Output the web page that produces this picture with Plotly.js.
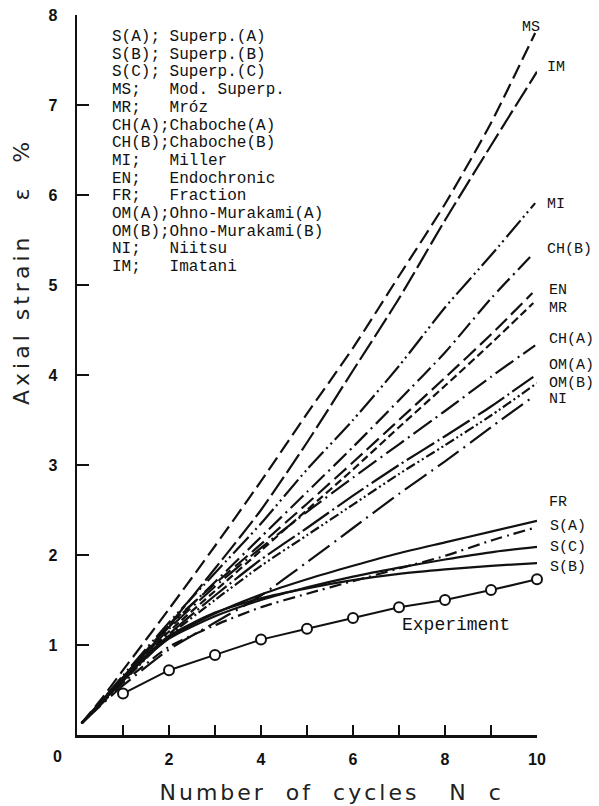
<!DOCTYPE html>
<html>
<head>
<meta charset="utf-8">
<script src="https://cdn.plot.ly/plotly-3.0.1.min.js"></script>
<style>
html,body{margin:0;padding:0;background:#fff;}
#chart{width:599px;height:806px;}
.annotation[data-index="0"] text{letter-spacing:3px;}
.annotation[data-index="1"] text{letter-spacing:4px;}
</style>
</head>
<body>
<div id="chart"></div>
<script>
// ---- data ----
const xGrid = [0.1, 0.5, 1, 2, 3, 4, 5, 6, 7, 8, 9];
const seriesCodes = ['MS','IM','MI','CH(B)','EN','MR','CH(A)','OM(A)','OM(B)','NI','FR','S(A)','S(C)','S(B)'];
const endX = [9.96, 10.0, 9.96, 9.85, 9.9, 9.92, 9.96, 9.92, 10.0, 9.92, 10.0, 10.0, 10.0, 10.0];

const msStrain  = [0.13,0.38,0.72,1.40,2.10,2.82,3.57,4.30,5.10,5.90,6.80,7.80];
const imStrain  = [0.13,0.36,0.64,1.22,1.85,2.50,3.25,4.05,4.85,5.72,6.55,7.37];
const miStrain  = [0.13,0.36,0.66,1.25,1.80,2.35,2.95,3.50,4.10,4.75,5.33,5.91];
const chbStrain = [0.13,0.35,0.63,1.20,1.70,2.20,2.70,3.20,3.72,4.25,4.85,5.31];
const enStrain  = [0.13,0.35,0.64,1.22,1.68,2.12,2.57,3.03,3.50,3.97,4.45,4.91];
const mrStrain  = [0.13,0.34,0.62,1.15,1.60,2.05,2.50,2.95,3.42,3.88,4.35,4.80];
const chaStrain = [0.13,0.34,0.61,1.18,1.65,2.08,2.48,2.86,3.23,3.60,3.98,4.33];
const omaStrain = [0.13,0.34,0.60,1.12,1.55,1.95,2.30,2.66,3.00,3.32,3.65,3.98];
const ombStrain = [0.13,0.33,0.59,1.10,1.50,1.88,2.22,2.56,2.90,3.22,3.55,3.91];
const niStrain  = [0.13,0.32,0.55,0.95,1.25,1.55,1.92,2.30,2.68,3.04,3.42,3.76];
const frStrain  = [0.13,0.34,0.62,1.08,1.35,1.56,1.73,1.88,2.02,2.14,2.26,2.38];
const saStrain  = [0.13,0.33,0.58,0.98,1.22,1.42,1.57,1.71,1.85,1.99,2.16,2.31];
const scStrain  = [0.13,0.35,0.63,1.07,1.32,1.50,1.64,1.76,1.86,1.95,2.03,2.09];
const sbStrain  = [0.13,0.35,0.64,1.10,1.36,1.52,1.63,1.72,1.79,1.84,1.88,1.91];

const expCycles = [1,2,3,4,5,6,7,8,9,10];
const expStrain = [0.46,0.72,0.89,1.06,1.18,1.30,1.42,1.50,1.61,1.73];

const xTickVals = [1,2,3,4,5,6,7,8,9,10];
const xTickText = ['','2','','4','','6','','8','','10'];
const yTickVals = [1,2,3,4,5,6,7,8];
const yTickText = ['1','2','3','4','5','6','7','8'];

const legendCodes = ['S(A);','S(B);','S(C);','MS;','MR;','CH(A);','CH(B);','MI;','EN;','FR;','OM(A);','OM(B);','NI;','IM;'];
const legendNames = ['Superp.(A)','Superp.(B)','Superp.(C)','Mod. Superp.','Mróz','Chaboche(A)','Chaboche(B)','Miller','Endochronic','Fraction','Ohno-Murakami(A)','Ohno-Murakami(B)','Niitsu','Imatani'];

// ---- styles ----
const seriesValues = [msStrain,imStrain,miStrain,chbStrain,enStrain,mrStrain,chaStrain,omaStrain,ombStrain,niStrain,frStrain,saStrain,scStrain,sbStrain];
const dashes = [
  '15px,6px',                 // MS
  '22px,5px',                 // IM
  '22px,4px,2px,4px,2px,4px', // MI
  '18px,5px,2px,5px',         // CH(B)
  '16px,6px',                 // EN
  '8px,4px',                  // MR
  '22px,5px,2px,5px',         // CH(A)
  '32px,4px,2px,4px',         // OM(A)
  '10px,3px,2px,3px,2px,3px', // OM(B)
  '26px,6px,2px,6px',         // NI
  'solid',                    // FR
  '12px,5px,2px,5px',         // S(A)
  'solid',                    // S(C)
  'solid'                     // S(B)
];
const labelShift = [[-15,6],[8,4],[10,-1],[15,8],[15,3],[14,-5],[12,6],[14,11],[10,0],[14,-3],[10,18],[11,1],[11,-1],[11,-4]];

const ink = '#111';
const traces = seriesValues.map((vals, i) => ({
  type: 'scatter', mode: 'lines',
  x: xGrid.concat([endX[i]]), y: vals,
  line: {color: ink, width: 2.2, dash: dashes[i], shape: 'spline', smoothing: 0.6},
  name: seriesCodes[i], hoverinfo: 'skip'
}));
traces.push({
  type: 'scatter', mode: 'lines+markers',
  x: expCycles, y: expStrain, name: 'Experiment',
  line: {color: ink, width: 2},
  marker: {symbol: 'circle', size: 10, color: '#fff', line: {color: ink, width: 2}},
  cliponaxis: false, hoverinfo: 'skip'
});

const mono = 'Liberation Mono, Courier New, monospace';
const nb = s => s.replace(/ /g, '\u00a0');
const annotations = [
  {xref:'paper', yref:'paper', x:(331-77)/460, y:(735-792)/720, xanchor:'center', yanchor:'middle',
   text: nb('Number  of  cycles   N  c'), showarrow:false,
   font:{family:'DejaVu Sans, sans-serif', size:22, color:'#222'}},
  {xref:'paper', yref:'paper', x:(22-77)/460, y:(735-272)/720, xanchor:'center', yanchor:'middle',
   text: nb('Axial strain   ε  %'), textangle:-90, showarrow:false,
   font:{family:'DejaVu Sans, sans-serif', size:22, color:'#222'}},
  {xref:'x', yref:'y', x:0, y:0, xshift:-20, yshift:-21, text:'0', showarrow:false,
   font:{family:'Liberation Sans, Arial, sans-serif', size:16, color:ink, weight:'bold'}},
  {xref:'paper', yref:'paper', x:(400-77)/460, y:(735-625)/720, xanchor:'left', yanchor:'middle',
   text:'Experiment', showarrow:false, font:{family:mono, size:18, color:ink}}
];
legendCodes.forEach((c, i) => {
  let code = c; while (code.length < 6) code += ' ';
  annotations.push({
    xref:'paper', yref:'paper', x:(110-77)/460, y:(735-(37+i*17.7))/720,
    xanchor:'left', yanchor:'middle', showarrow:false,
    text: nb(code + legendNames[i]), font:{family:mono, size:16, color:ink}
  });
});
seriesCodes.forEach((c, i) => {
  const v = seriesValues[i];
  annotations.push({
    xref:'x', yref:'y', x:endX[i], y:v[v.length-1], xanchor:'left', yanchor:'middle',
    xshift: labelShift[i][0], yshift: labelShift[i][1], showarrow:false,
    text: c, font:{family:mono, size:15, color:ink}
  });
});

const axisFont = {family:'Liberation Sans, Arial, sans-serif', size:16, color:ink, weight:'bold'};
const layout = {
  width:599, height:806,
  margin:{l:77, r:62, t:15, b:71},
  paper_bgcolor:'#fff', plot_bgcolor:'#fff',
  showlegend:false,
  xaxis:{range:[0,10], showgrid:false, zeroline:false, showline:true, linecolor:ink, linewidth:2.5,
         ticks:'inside', ticklen:10, tickwidth:2, tickcolor:ink,
         tickmode:'array', tickvals:xTickVals, ticktext:xTickText, tickfont:axisFont, ticklabelstandoff:8},
  yaxis:{range:[0,8], showgrid:false, zeroline:false, showline:true, linecolor:ink, linewidth:2.5,
         ticks:'inside', ticklen:12, tickwidth:2, tickcolor:ink,
         tickmode:'array', tickvals:yTickVals, ticktext:yTickText, tickfont:axisFont, ticklabelstandoff:14},
  annotations: annotations
};
Plotly.newPlot('chart', traces, layout, {staticPlot:true, displayModeBar:false});
</script>
</body>
</html>
